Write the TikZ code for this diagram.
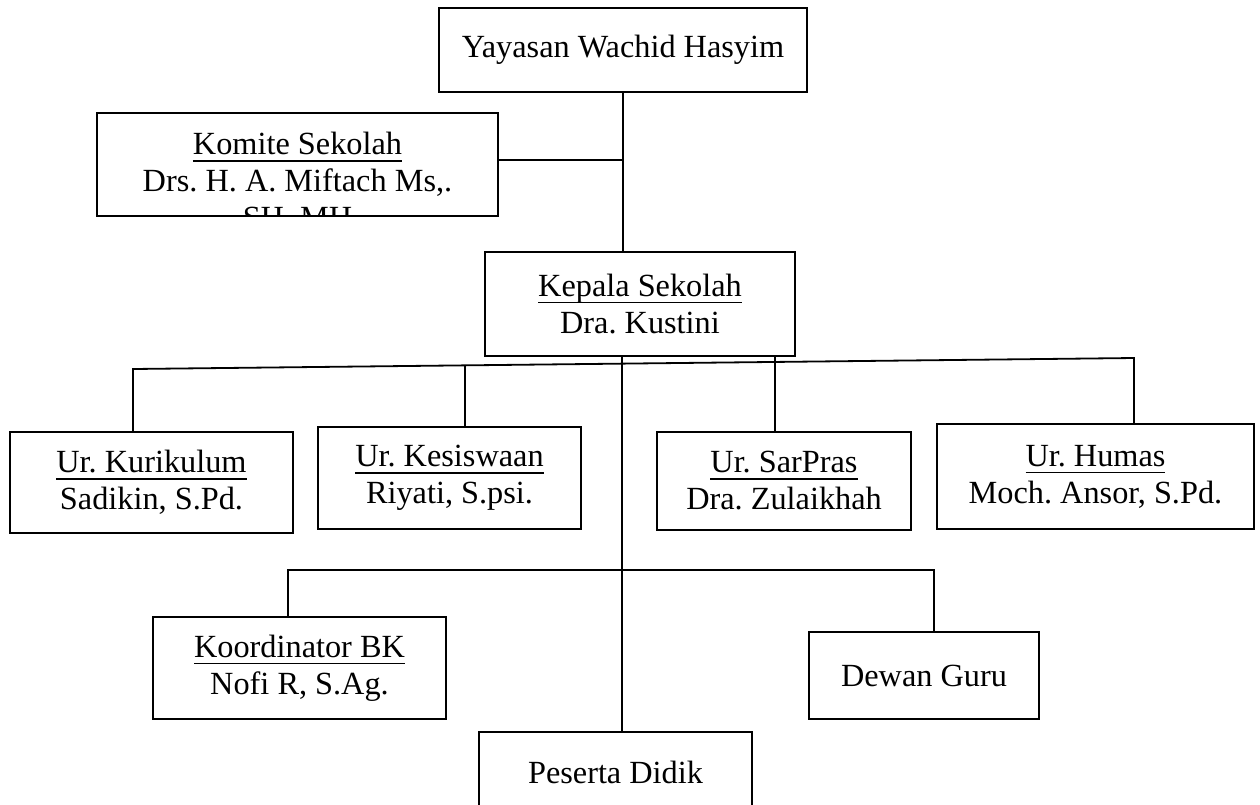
\documentclass[tikz,border=0pt]{standalone}
\usepackage{fontspec}
\setmainfont{Liberation Serif}
\usetikzlibrary{calc}
\frenchspacing
\newcommand{\myul}[1]{\setbox0=\hbox{#1}\rlap{\smash{\rule[-7pt]{\wd0}{1.6pt}}}\box0}
\begin{document}
\begin{tikzpicture}[x=1pt,y=-1pt,
  box/.style={draw, line width=1.8pt, inner sep=0pt, align=center,
    font=\fontsize{32.3}{37}\selectfont\frenchspacing},
  txt/.style={inner sep=0pt, align=center, font=\fontsize{32.3}{37}\selectfont\frenchspacing},
  conn/.style={line width=1.8pt}]
\useasboundingbox (0,0) rectangle (1260,804);
\fill[white] (0,0) rectangle (1260,804);
\clip (0,0) rectangle (1260,804);

% boxes
\node[box, minimum width=368pt, minimum height=84pt] (yay) at (623,50) {Yayasan Wachid Hasyim};
\node[box, minimum width=401pt, minimum height=103pt] (kom) at (297.5,164.5) {};
\begin{scope}
  \clip (kom.north west) rectangle (kom.south east);
  \node[txt] (komtxt) at ($(kom.center)+(0,16.5)$) {\myul{Komite Sekolah}\\Drs. H. A. Miftach Ms,.\\SH. MH};
\end{scope}
\node[box, minimum width=401pt, minimum height=103pt] at (kom) {};
\node[box, minimum width=310pt, minimum height=104pt] (kep) at (640,304) {\myul{Kepala Sekolah}\\Dra. Kustini};
\node[box, minimum width=283pt, minimum height=101pt] (kur) at (151.5,482.5) {\myul{Ur. Kurikulum}\\Sadikin, S.Pd.};
\node[box, minimum width=263pt, minimum height=102pt] (kes) at (449.5,478) {\myul{Ur. Kesiswaan}\\Riyati, S.psi.};
\node[box, minimum width=254pt, minimum height=98pt] (sar) at (784,481) {\myul{Ur. SarPras}\\Dra. Zulaikhah};
\node[box, minimum width=317pt, minimum height=105pt] (hum) at (1095.5,476.5) {\myul{Ur. Humas}\\Moch. Ansor, S.Pd.};
\node[box, minimum width=293pt, minimum height=102pt] (kbk) at (299.5,668) {\myul{Koordinator BK}\\Nofi R, S.Ag.};
\node[box, minimum width=230pt, minimum height=87pt] (dew) at (924,675.5) {Dewan Guru};
\node[box, minimum width=273pt, minimum height=80pt] (pes) at (615.5,772) {Peserta Didik};

% connectors
\coordinate (kj) at (623,160);
\draw[conn] (yay.south) -- (yay.south |- kep.north);
\draw[conn] (kom.east |- kj) -- (kj);

\coordinate (spine) at (622,356);
\draw[conn] (spine) -- (spine |- pes.north);

\coordinate (hl) at (133,369);
\coordinate (hr) at (1134,358);
\draw[conn] (hl |- kur.north) -- (hl) -- (hr) -- (hr |- hum.north);
\coordinate (h2) at ($(hl)!0.3317!(hr)$);
\coordinate (h3) at ($(hl)!0.6414!(hr)$);
\draw[conn] (h2) -- (h2 |- kes.north);
\draw[conn] ($(h3)+(0,-5)$) -- (h3 |- sar.north);

\coordinate (b1) at (288,570);
\coordinate (b2) at (934,570);
\draw[conn] (b1 |- kbk.north) -- (b1) -- (b2) -- (b2 |- dew.north);
\end{tikzpicture}
\end{document}
